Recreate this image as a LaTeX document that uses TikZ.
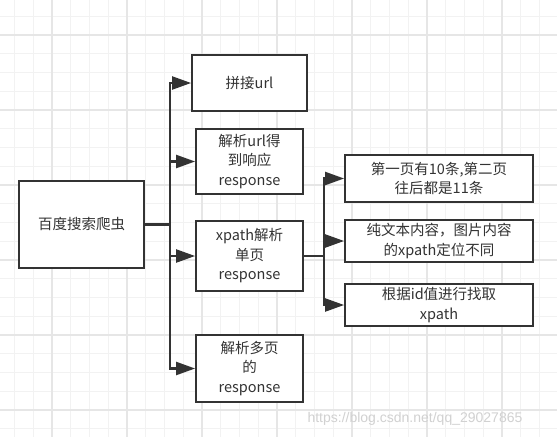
\documentclass[tikz,border=0pt]{standalone}
\usepackage{fontspec}
\usepackage{tikz}
\usetikzlibrary{arrows.meta}
\newfontfamily\cjkFont{Noto Sans CJK SC}
\newfontfamily\markFont{Liberation Sans}
\definecolor{paperGridColor}{HTML}{F2F2F2}
\definecolor{paperGridMajor}{HTML}{E6E6E6}
\definecolor{lineColor}{HTML}{333333}
\tikzstyle{mindMap} = [x = 1pt, y = -1pt]
\tikzstyle{minorGrid} = [color=paperGridColor, line width=1pt]
\tikzstyle{majorGrid} = [color=paperGridMajor, line width=1.2pt]
\tikzstyle{boxStyle} = [draw=lineColor, fill=white, line width=1.8pt, align=center, inner sep=0pt,
  font=\cjkFont\fontsize{14.5}{19.5}\selectfont, text=black!80]
\tikzstyle{branchLine} = [draw=lineColor, line width=2.2pt, -{Triangle[length=19pt,width=13pt]}]
\tikzstyle{stemLine} = [draw=lineColor, line width=2.2pt]
\newcommand{\paperGrid}{
  \foreach \k in {0,...,29} {
    \pgfmathsetmacro{\var}{14.5 + 18.75 * \k}
    \draw [minorGrid] (\var, 0) -- + (0, 437);
  }
  \foreach \k in {0,...,22} {
    \pgfmathsetmacro{\var}{16.25 + 18.75 * \k}
    \draw [minorGrid] (0, \var) -- + (557, 0);
  }
  \foreach \k in {0,...,6} {
    \pgfmathsetmacro{\var}{52 + 75 * \k}
    \draw [majorGrid] (\var, 0) -- + (0, 437);
  }
  \foreach \k in {0,...,5} {
    \pgfmathsetmacro{\var}{35 + 75 * \k}
    \draw [majorGrid] (0, \var) -- + (557, 0);
  }
}
\newcommand{\boxNode}[6]{\node [boxStyle, minimum width=#4pt, minimum height=#5pt] (#1) at (#2, #3) {#6};}

\begin{document}
\begin{tikzpicture}[mindMap]
  \useasboundingbox (0,0) rectangle (557,437);
  \fill [white] (0,0) rectangle (557,437);
  \paperGrid
  % first level
  \boxNode{spider}{81.5}{224.5}{125}{87}{百度搜索爬虫}
  \boxNode{joinUrl}{249.5}{83}{115}{56}{拼接url}
  \boxNode{getResponse}{249.5}{161.5}{107}{65}{解析url得\\到响应\\response}
  \boxNode{parseSingle}{249.5}{256}{107}{70}{xpath解析\\单页\\response}
  \boxNode{parseMulti}{249.5}{368.5}{107}{67}{解析多页\\的\\response}
  % second level
  \boxNode{itemCount}{439}{178.5}{188}{47}{第一页有10条,第二页\\往后都是11条}
  \boxNode{textImage}{439}{241}{188}{42}{纯文本内容，图片内容\\的xpath定位不同}
  \boxNode{findById}{439}{305}{188}{42}{根据id值进行找取\\xpath}
  % connectors
  \draw [stemLine] (spider.east) -- ++(25,0) coordinate (fork);
  \foreach \target in {joinUrl, getResponse, parseSingle, parseMulti}
    \draw [branchLine] (fork) |- (\target.west);
  \draw [stemLine] (parseSingle.east) -- ++(20,0) coordinate (subFork);
  \foreach \target in {itemCount, textImage, findById}
    \draw [branchLine] (subFork) |- (\target.west);
  % watermark
  \node [font=\markFont\fontsize{14}{16}\selectfont, text=black!18, anchor=west] (watermark) at (304, 419) {https://blog.csdn.net/qq\_29027865};
\end{tikzpicture}
\end{document}
